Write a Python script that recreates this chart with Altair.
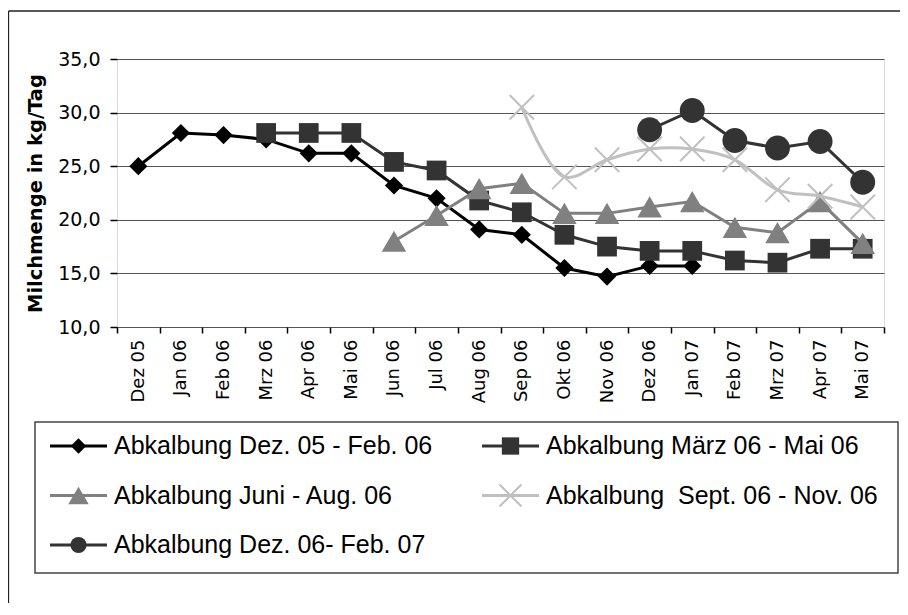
import altair as alt
import pandas as pd

months = ["Dez 05", "Jan 06", "Feb 06", "Mrz 06", "Apr 06", "Mai 06", "Jun 06", "Jul 06",
          "Aug 06", "Sep 06", "Okt 06", "Nov 06", "Dez 06", "Jan 07", "Feb 07", "Mrz 07",
          "Apr 07", "Mai 07"]

s_dez05 = [25.0, 28.1, 27.9, 27.5, 26.2, 26.2, 23.2, 22.0, 19.1, 18.6, 15.5, 14.7, 15.7, 15.7,
           None, None, None, None]
s_mrz06 = [None, None, None, 28.1, 28.1, 28.1, 25.4, 24.6, 21.8, 20.7, 18.6, 17.5, 17.1, 17.1,
           16.2, 16.0, 17.3, 17.3]
s_jun06 = [None, None, None, None, None, None, 18.0, 20.4, 22.9, 23.4, 20.6, 20.6, 21.2, 21.7,
           19.3, 18.8, 21.7, 17.8]
s_sep06 = [None, None, None, None, None, None, None, None, None, 30.5, 24.0, 25.6, 26.6, 26.6,
           25.6, 22.8, 22.2, 21.2]
s_dez06 = [None, None, None, None, None, None, None, None, None, None, None, None, 28.4, 30.2,
           27.4, 26.7, 27.3, 23.5]

names = ["Abkalbung Dez. 05 - Feb. 06", "Abkalbung März 06 - Mai 06",
         "Abkalbung Juni - Aug. 06", "Abkalbung\u00a0 Sept. 06 - Nov. 06",
         "Abkalbung Dez. 06- Feb. 07"]
series = [s_dez05, s_mrz06, s_jun06, s_sep06, s_dez06]

X_PATH = "M-1,-1L1,1M-1,1L1,-1"
styles = [
    dict(color="#000000", shape="diamond", size=330, lsize=240, filled=True, interp="linear"),
    dict(color="#333333", shape="square", size=390, lsize=300, filled=True, interp="linear"),
    dict(color="#808080", shape="triangle-up", size=600, lsize=420, filled=True, interp="linear"),
    dict(color="#c0c0c0", shape=X_PATH, size=600, lsize=480, filled=False, interp="catmull-rom"),
    dict(color="#333333", shape="circle", size=620, lsize=260, filled=True, interp="linear"),
]

W, H = 767, 268
FONT = "DejaVu Sans"
LEG_FONT = "Liberation Sans, Arial"

x_axis = alt.Axis(title=None, labelAngle=-90, labelFont=FONT, labelFontSize=18,
                  labelColor="#000", tickBand="extent", ticks=True, tickSize=6,
                  tickColor="#000", tickWidth=1.5, labelPadding=6, domain=False, grid=False)
y_axis = alt.Axis(title="Milchmenge in kg/Tag", titleFont=FONT, titleFontSize=19.5,
                  titleFontWeight="bold", titleColor="#000", titlePadding=12,
                  values=[10, 15, 20, 25, 30, 35],
                  labelExpr="replace(format(datum.value, '.1f'), '.', ',')",
                  labelFont=FONT, labelFontSize=19, labelColor="#000", labelPadding=10,
                  tickSize=7, tickColor="#000", tickWidth=1.5, domain=False,
                  grid=True, gridColor="#555555", gridWidth=1)

xenc = alt.X("month:N", bandPosition=0.5,
             scale=alt.Scale(type="band", domain=months, paddingInner=0, paddingOuter=0),
             axis=x_axis)
yenc = alt.Y("value:Q", scale=alt.Scale(domain=[10, 35], nice=False, zero=False), axis=y_axis)

main_layers = []
for name, vals, st in zip(names, series, styles):
    df = pd.DataFrame({"month": months, "value": vals}).dropna()
    base = alt.Chart(df)
    line = base.mark_line(color=st["color"], strokeWidth=3, interpolate=st["interp"]).encode(
        x=xenc, y=yenc)
    if st["filled"]:
        pts = base.mark_point(shape=st["shape"], size=st["size"], filled=True,
                              fill=st["color"], color=st["color"], opacity=1,
                              strokeWidth=0).encode(x=xenc, y=yenc)
    else:
        pts = base.mark_point(shape=st["shape"], size=st["size"], filled=False,
                              color=st["color"], opacity=1,
                              strokeWidth=2).encode(x=xenc, y=yenc)
    main_layers += [line, pts]
main = alt.layer(*main_layers)

# legend (two columns, three rows), positioned by its own scales
lx = alt.X("col:Q", scale=alt.Scale(domain=[0, 1], range=[-67, 365], nice=False, zero=False),
           axis=None)
ly = alt.Y("row:Q", scale=alt.Scale(domain=[0, 2], range=[387, 486], nice=False, zero=False),
           axis=None)
lx2 = alt.X2("col:Q")

one = pd.DataFrame({"k": [0]})
frame_box = alt.Chart(one).mark_rect(fill=None, stroke="#444444", strokeWidth=1.5).encode(
    x=alt.value(-82), x2=alt.value(781), y=alt.value(363), y2=alt.value(514))
outer_left = alt.Chart(one).mark_rule(color="#222222", strokeWidth=1.3).encode(
    x=alt.value(-108.5), y=alt.value(-48), y2=alt.value(560))
outer_top = alt.Chart(one).mark_rule(color="#222222", strokeWidth=1.3).encode(
    x=alt.value(-108.5), x2=alt.value(790), y=alt.value(-48))

legend_layers = [frame_box, outer_left, outer_top]
for i, (name, st) in enumerate(zip(names, styles)):
    ldf = pd.DataFrame({"name": [name], "col": [i % 2], "row": [i // 2]})
    lb = alt.Chart(ldf)
    legend_layers.append(lb.mark_rule(color=st["color"], strokeWidth=3, x2Offset=57).encode(
        x=lx, x2=lx2, y=ly))
    if st["filled"]:
        legend_layers.append(lb.mark_point(shape=st["shape"], size=st["lsize"],
                                           filled=True, fill=st["color"], color=st["color"],
                                           opacity=1, strokeWidth=0, xOffset=28.5).encode(
            x=lx, y=ly))
    else:
        legend_layers.append(lb.mark_point(shape=st["shape"], size=st["lsize"],
                                           filled=False, color=st["color"], opacity=1,
                                           strokeWidth=2, xOffset=28.5).encode(x=lx, y=ly))
    legend_layers.append(lb.mark_text(align="left", baseline="middle", dx=64, font=LEG_FONT,
                                      fontSize=25, color="#000").encode(
        x=lx, y=ly, text="name:N"))
legend = alt.layer(*legend_layers)

chart = alt.layer(main, legend).resolve_scale(x="independent", y="independent").properties(
    width=W, height=H,
    autosize=alt.AutoSizeParams(type="none"),
    padding={"left": 109, "top": 51, "right": 16, "bottom": 276},
).configure_view(stroke="#000000", strokeWidth=2).configure(background="white")

chart.save("out.html", embed_options={"renderer": "svg", "actions": False})
